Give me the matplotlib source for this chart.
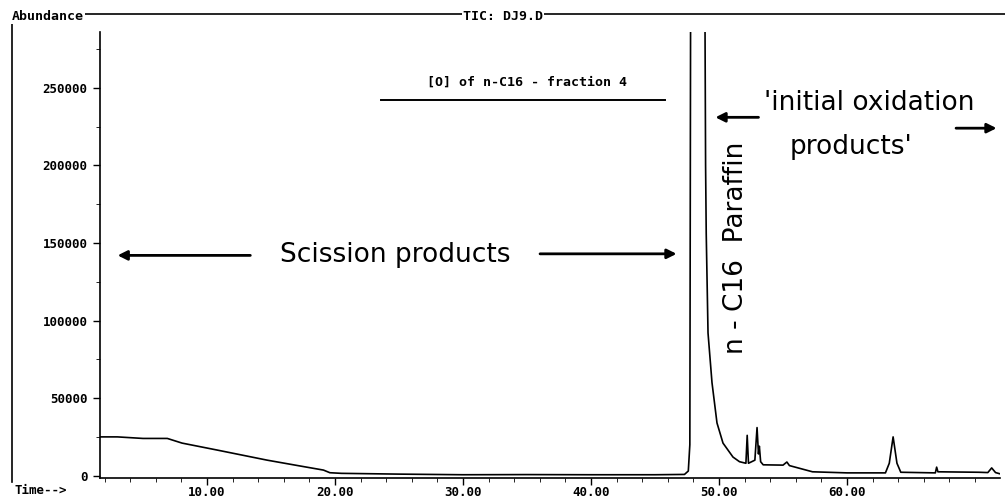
import matplotlib
matplotlib.use("Agg")
import matplotlib.pyplot as plt
from matplotlib.ticker import MultipleLocator, FormatStrFormatter

# Retention time (min) and abundance
time_min = [1.64, 3.0, 5.0, 6.9, 8.05, 10.8, 14.7, 17.3, 19.1, 19.6, 20.5,
            25.0, 30.0, 35.0, 40.0, 45.0, 47.3, 47.6, 47.72, 47.8,
            48.85, 48.95, 49.0, 49.14, 49.45, 49.84, 50.31, 51.09, 51.6, 52.1,
            52.2, 52.3, 52.8, 52.97, 53.08, 53.15, 53.25, 53.45, 55.0, 55.3,
            55.5, 57.3, 60.0, 63.0, 63.3, 63.6, 63.9, 64.2, 66.9, 67.0,
            67.1, 70.3, 71.0, 71.3, 71.6, 71.95]
abundance = [25000, 25000, 24000, 24000, 21000, 16500, 10000, 6200, 3600, 1900, 1500,
             1000, 600, 700, 600, 600, 800, 3000, 20000, 400000,
             400000, 200000, 156000, 92000, 60000, 34000, 21000, 12000, 9000, 8000,
             26000, 8000, 10000, 31000, 14000, 19000, 9000, 7000, 6800, 8800,
             6500, 2500, 1800, 1800, 8000, 25000, 8000, 2200, 1800, 5500,
             2500, 2200, 2000, 5000, 2000, 1200]

x_ticks = [10, 20, 30, 40, 50, 60]
y_ticks = [0, 50000, 100000, 150000, 200000, 250000]

W, H = 1005, 501
fig = plt.figure(figsize=(W / 100, H / 100), dpi=100)
ax = fig.add_axes([100 / W, 1 - 478 / H, 900 / W, 446 / H])

ax.plot(time_min, abundance, color="black", lw=1.2)
ax.set_xlim(1.64, 71.95)
ax.set_ylim(-1500, 286000)

mono = "DejaVu Sans Mono"
ax.set_xticks(x_ticks)
ax.set_yticks(y_ticks)
ax.xaxis.set_major_formatter(FormatStrFormatter("%.2f"))
ax.xaxis.set_minor_locator(MultipleLocator(2))
ax.yaxis.set_minor_locator(MultipleLocator(25000))
ax.tick_params(axis="both", direction="out", width=1, labelsize=9)
ax.tick_params(axis="x", which="major", length=5, pad=1)
ax.tick_params(axis="y", which="major", length=5, pad=4)
ax.tick_params(which="minor", length=3)
for lab in ax.get_xticklabels() + ax.get_yticklabels():
    lab.set_family(mono)
    lab.set_weight("bold")
for s in ["top", "right"]:
    ax.spines[s].set_visible(False)
ax.spines["left"].set_linewidth(1.2)
ax.spines["bottom"].set_linewidth(1.2)

# header frame of the printout
fig.add_artist(plt.Line2D([12 / W, 1.0], [1 - 14 / H, 1 - 14 / H], color="black", lw=1.2))
fig.add_artist(plt.Line2D([12 / W, 12 / W], [1 - 14 / H, 1 - 482 / H], color="black", lw=1.2))
fig.text(12 / W, 1 - 17 / H, "Abundance", family=mono, weight="bold", fontsize=9.5,
         va="center", ha="left", bbox=dict(fc="white", ec="none", pad=0.5))
fig.text(503 / W, 1 - 16 / H, "TIC: DJ9.D", family=mono, weight="bold", fontsize=9.5,
         va="center", ha="center", bbox=dict(fc="white", ec="none", pad=0.5))
fig.text(14 / W, 1 - 490 / H, "Time-->", family=mono, weight="bold", fontsize=9,
         va="center", ha="left")
fig.text(527 / W, 1 - 82 / H, "[O] of n-C16 - fraction 4", family=mono, weight="bold",
         fontsize=9.5, va="center", ha="center")
fig.add_artist(plt.Line2D([381 / W, 665 / W], [1 - 100 / H, 1 - 100 / H], color="black", lw=1.4))

# hand-written notes
hand = dict(fontsize=19, color="black", family="DejaVu Sans")
arrow = dict(arrowstyle="-|>", lw=2, color="black", mutation_scale=14)
ax.text(24.7, 142000, "Scission products", ha="center", va="center", **hand)
ax.annotate("", xy=(2.8, 142000), xytext=(13.6, 142000), arrowprops=arrow)
ax.annotate("", xy=(46.9, 143000), xytext=(35.8, 143000), arrowprops=arrow)
ax.text(51.3, 147000, "n - C16  Paraffin", rotation=90, ha="center", va="center", **hand)
ax.text(61.7, 240000, "'initial oxidation", ha="center", va="center", **hand)
ax.text(60.3, 212000, "products'", ha="center", va="center", **hand)
ax.annotate("", xy=(49.5, 231000), xytext=(53.3, 231000), arrowprops=arrow)
ax.annotate("", xy=(71.9, 224000), xytext=(68.3, 224000), arrowprops=arrow,
            annotation_clip=False)

fig.savefig("out.png", dpi=100)
